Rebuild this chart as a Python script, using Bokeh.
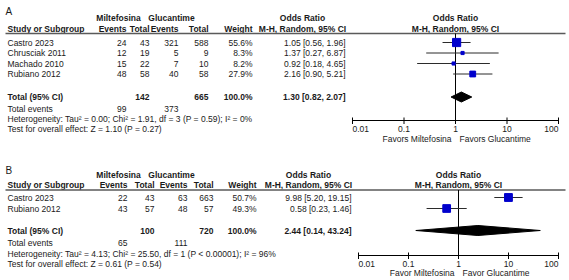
import math
from bokeh.plotting import figure
from bokeh.models import Range1d, LogScale, ColumnDataSource
from bokeh.core.properties import value
from bokeh.embed import file_html
from bokeh.resources import INLINE

# ---------------- data: panel A ----------------
a_studies = ["Castro 2023", "Chrusciak 2011", "Machado  2010", "Rubiano 2012"]
a_mil_events = [24, 12, 15, 48]
a_mil_total = [43, 19, 22, 58]
a_glu_events = [321, 5, 7, 40]
a_glu_total = [588, 9, 10, 58]
a_weight = [55.6, 8.3, 8.2, 27.9]
a_or = [1.05, 1.37, 0.92, 2.16]
a_lo = [0.56, 0.27, 0.18, 0.90]
a_hi = [1.96, 6.87, 4.65, 5.21]
a_sum_totals = [142, 665]
a_sum_events = [99, 373]
a_sum_or = [1.30, 0.82, 2.07]
a_het = "Heterogeneity: Tau² = 0.00; Chi² = 1.91, df = 3 (P = 0.59); I² = 0%"
a_test = "Test for overall effect: Z = 1.10 (P = 0.27)"
a_favors = ["Favors Miltefosina", "Favors Glucantime"]

# ---------------- data: panel B ----------------
b_studies = ["Castro 2023", "Rubiano 2012"]
b_mil_events = [22, 43]
b_mil_total = [43, 57]
b_glu_events = [63, 48]
b_glu_total = [663, 57]
b_weight = [50.7, 49.3]
b_or = [9.98, 0.58]
b_lo = [5.20, 0.23]
b_hi = [19.15, 1.46]
b_sum_totals = [100, 720]
b_sum_events = [65, 111]
b_sum_or = [2.44, 0.14, 43.24]
b_het = "Heterogeneity: Tau² = 4.13; Chi² = 25.50, df = 1 (P < 0.00001); I² = 96%"
b_test = "Test for overall effect: Z = 0.61 (P = 0.54)"
b_favors = ["Favor Miltefosina", "Favor Glucantime"]

tick_vals = [0.01, 0.1, 1, 10, 100]
tick_labels = ["0.01", "0.1", "1", "10", "100"]

W, H = 569, 280
FONT = "Liberation Sans"
TXT = "#1a1a1a"
FS = "8.5px"

p = figure(width=W, height=H, output_backend="svg", toolbar_location=None,
           x_range=Range1d(0, W), y_range=Range1d(H, 0),
           min_border=0, x_axis_location=None, y_axis_location=None)
p.grid.visible = False
p.outline_line_color = None
p.background_fill_color = "white"
p.border_fill_color = "white"


def log_range(left_px, right_px):
    ppd = (right_px - left_px) / 4.0
    return Range1d(10 ** (-2 - left_px / ppd), 10 ** (-2 + (W - left_px) / ppd))


p.extra_x_ranges = {"orA": log_range(352, 558), "orB": log_range(358, 558)}
p.extra_x_scales = {"orA": LogScale(), "orB": LogScale()}


def txt(xs, ys, texts, align="left", bold=False, size=FS, rn="default", x_offset=0):
    data = dict(x=list(xs), y=list(ys), t=list(texts))
    kw = {}
    if isinstance(align, list):
        data["a"] = align
        kw["text_align"] = "a"
    else:
        kw["text_align"] = align
    src = ColumnDataSource(data)
    p.text(x="x", y="y", text="t", source=src, text_baseline="middle",
           text_font=value(FONT), text_font_size=value(size),
           text_font_style="bold" if bold else "normal", text_color=TXT,
           x_range_name=rn, x_offset=x_offset, **kw)


def panel(label, studies, me, mt, ge, gt, wt, orv, lo, hi, sum_tot, sum_ev, sum_or,
          het, test, favors, rn, lay):
    n = len(studies)
    ys = lay["rows"]
    cx = lay["cols"]
    # panel letter
    txt([5], [lay["letter"]], [label], size="10px")
    # group headers
    txt([118, 171], [lay["h1"]] * 2, ["Miltefosina", "Glucantime"], align="center", bold=True)
    txt([lay["or_hcenter"]], [lay["h1"]], ["Odds Ratio"], align="center", bold=True)
    txt([1], [lay["h1"]], ["Odds Ratio"], align="center", bold=True, rn=rn)
    # column headers
    txt([7], [lay["h2"]], ["Study or Subgroup"], bold=True)
    txt(cx[:5], [lay["h2"]] * 5, ["Events", "Total", "Events", "Total", "Weight"],
        align="right", bold=True)
    txt([lay["or_hcenter"]], [lay["h2"]], ["M-H, Random, 95% CI"], align="center", bold=True)
    txt([1], [lay["h2"]], ["M-H, Random, 95% CI"], align="center", bold=True, rn=rn)
    # header rule
    p.segment(x0=[5], x1=[565], y0=[lay["rule"]], y1=[lay["rule"]],
              line_color="#5a5a5a", line_width=1.6)
    # study rows
    txt([7] * n, ys, studies)
    txt([cx[0]] * n, ys, [str(v) for v in me], align="right")
    txt([cx[1]] * n, ys, [str(v) for v in mt], align="right")
    txt([cx[2]] * n, ys, [str(v) for v in ge], align="right")
    txt([cx[3]] * n, ys, [str(v) for v in gt], align="right")
    txt([cx[4]] * n, ys, [f"{v:.1f}%" for v in wt], align="right")
    txt([cx[5]] * n, ys, [f"{o:.2f} [{l:.2f}, {h:.2f}]" for o, l, h in zip(orv, lo, hi)],
        align="right")
    # total row
    yt = lay["total"]
    txt([7], [yt], ["Total (95% CI)"], bold=True)
    txt([cx[1], cx[3]], [yt, yt], [str(v) for v in sum_tot], align="right", bold=True)
    txt([cx[4]], [yt], ["100.0%"], align="right", bold=True)
    txt([cx[5]], [yt], [f"{sum_or[0]:.2f} [{sum_or[1]:.2f}, {sum_or[2]:.2f}]"],
        align="right", bold=True)
    # footer
    txt([7], [lay["events"]], ["Total events"])
    txt([cx[0], cx[2]], [lay["events"]] * 2, [str(v) for v in sum_ev], align="right")
    txt([7], [lay["het"]], [het])
    txt([7], [lay["test"]], [test])

    # forest: no-effect line
    p.segment(x0=[1], x1=[1], y0=[lay["rule"]], y1=[lay["axis"]],
              line_color="black", line_width=1, x_range_name=rn)
    # CIs
    p.segment(x0=lo, x1=hi, y0=ys, y1=ys, line_color="#2b2b2b", line_width=1,
              x_range_name=rn)
    p.scatter(x=orv, y=ys, marker="square", size=[math.sqrt(w) * 1.1 for w in wt],
              fill_color="#0000CC", line_color="#0000CC", x_range_name=rn)
    # pooled diamond
    hh = lay["dh"]
    p.patches(xs=[[sum_or[1], sum_or[0], sum_or[2], sum_or[0]]],
              ys=[[yt, yt - hh, yt, yt + hh]],
              fill_color="black", line_color="black", x_range_name=rn)
    # axis
    ya = lay["axis"]
    p.segment(x0=[tick_vals[0]], x1=[tick_vals[-1]], y0=[ya], y1=[ya],
              line_color="black", line_width=1, x_range_name=rn)
    p.segment(x0=tick_vals, x1=tick_vals, y0=[ya - 3] * 5, y1=[ya + 3.5] * 5,
              line_color="black", line_width=1, x_range_name=rn)
    txt(tick_vals, [ya + 8] * 5, tick_labels,
        align=["left", "center", "center", "center", "right"], rn=rn)
    txt([1], [lay["fav"]], [favors[0]], align="right", rn=rn, x_offset=-4)
    txt([1], [lay["fav"]], [favors[1]], align="left", rn=rn, x_offset=4)


layA = dict(letter=11, h1=17, h2=28, rule=33, rows=[42, 52.5, 63, 73.5],
            cols=[126, 149, 178, 208, 252, 345], or_hcenter=302,
            total=96.5, events=108.5, het=118.5, test=128.5,
            axis=120, fav=138, dh=5)
layB = dict(letter=170, h1=174, h2=184.5, rule=189.5, rows=[197, 208],
            cols=[127, 154, 187, 213, 256, 351], or_hcenter=308,
            total=230, events=242.5, het=253, test=263.5,
            axis=255, fav=272, dh=5)

panel("A", a_studies, a_mil_events, a_mil_total, a_glu_events, a_glu_total, a_weight,
      a_or, a_lo, a_hi, a_sum_totals, a_sum_events, a_sum_or, a_het, a_test, a_favors,
      "orA", layA)
panel("B", b_studies, b_mil_events, b_mil_total, b_glu_events, b_glu_total, b_weight,
      b_or, b_lo, b_hi, b_sum_totals, b_sum_events, b_sum_or, b_het, b_test, b_favors,
      "orB", layB)

open("out.html", "w").write(file_html(p, INLINE))
